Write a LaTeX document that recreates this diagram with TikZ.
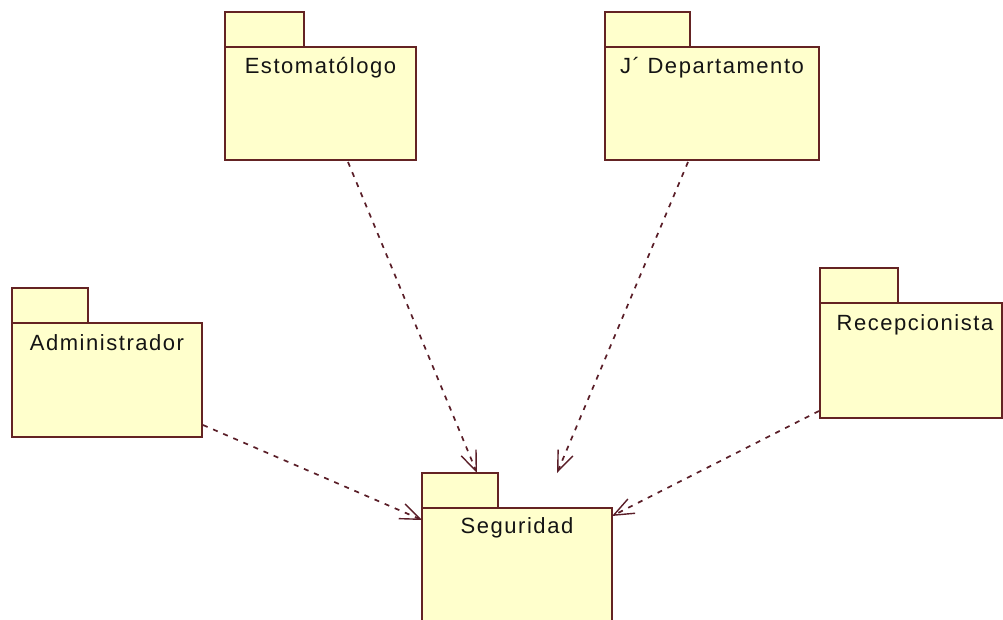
\documentclass[tikz,border=0pt]{standalone}
\usepackage{fontspec}
\setmainfont{Liberation Sans}[LetterSpace=7]
\usetikzlibrary{arrows.meta}
\definecolor{pkgfill}{RGB}{255,255,204}
\definecolor{pkgline}{RGB}{100,35,35}
\definecolor{depline}{RGB}{90,30,40}
\definecolor{pkgtextc}{RGB}{20,20,20}
\tikzset{
  pkgbody/.style={draw=pkgline, fill=pkgfill, line width=1.9pt, inner sep=0pt, outer sep=0pt, anchor=north west},
  pkgtab/.style={draw=pkgline, fill=pkgfill, line width=1.9pt, inner sep=0pt, outer sep=0pt, anchor=south west, minimum height=35pt},
  pkgtext/.style={text=pkgtextc, font=\fontsize{22}{24}\selectfont, inner sep=0pt, anchor=base},
  dep/.style={draw=depline, line width=1.7pt, dash pattern=on 5pt off 6pt,
    -{Straight Barb[length=20pt, width=16pt, line width=1.4pt]}}
}
\begin{document}
\begin{tikzpicture}[x=1pt, y=-1pt]
\clip (0,0) rectangle (1003,619);
\fill[white] (0,0) rectangle (1003,619);

% Estomatologo
\node[pkgbody, minimum width=191pt, minimum height=113pt] (est) at (225,47) {};
\node[pkgtab, minimum width=79pt] (estTab) at (est.north west) {};
\node[pkgtext] (estL) at ([yshift=-26pt]est.north) {Estomatólogo};

% J' Departamento
\node[pkgbody, minimum width=214pt, minimum height=113pt] (jdep) at (605,47) {};
\node[pkgtab, minimum width=85pt] (jdepTab) at (jdep.north west) {};
\node[pkgtext] (jdepL) at ([yshift=-26pt]jdep.north) {J´ Departamento};

% Administrador
\node[pkgbody, minimum width=190pt, minimum height=114pt] (adm) at (12,323) {};
\node[pkgtab, minimum width=76pt] (admTab) at (adm.north west) {};
\node[pkgtext] (admL) at ([yshift=-27pt]adm.north) {Administrador};

% Recepcionista
\node[pkgbody, minimum width=182pt, minimum height=115pt] (rec) at (820,303) {};
\node[pkgtab, minimum width=78pt] (recTab) at (rec.north west) {};
\node[pkgtext] (recL) at ([xshift=4pt, yshift=-27pt]rec.north) {Recepcionista};

% Seguridad
\node[pkgbody, minimum width=190pt, minimum height=130pt] (seg) at (422,508) {};
\node[pkgtab, minimum width=76pt] (segTab) at (seg.north west) {};
\node[pkgtext] (segL) at ([yshift=-25pt]seg.north) {Seguridad};

% dependency end points
\coordinate (estOut) at (348,162);
\coordinate (segTop) at (477,473);
\coordinate (jdepOut) at (688,162);
\coordinate (jdepEnd) at (557,473);
\coordinate (admOut) at (203,425);
\coordinate (segLeft) at (422,520);
\coordinate (recOut) at (819,411);
\coordinate (segRight) at (612,516);

% dependencies
\draw[dep] (estOut) -- (segTop);
\draw[dep] (jdepOut) -- (jdepEnd);
\draw[dep] (admOut) -- (segLeft);
\draw[dep] (recOut) -- (segRight);
\end{tikzpicture}
\end{document}
